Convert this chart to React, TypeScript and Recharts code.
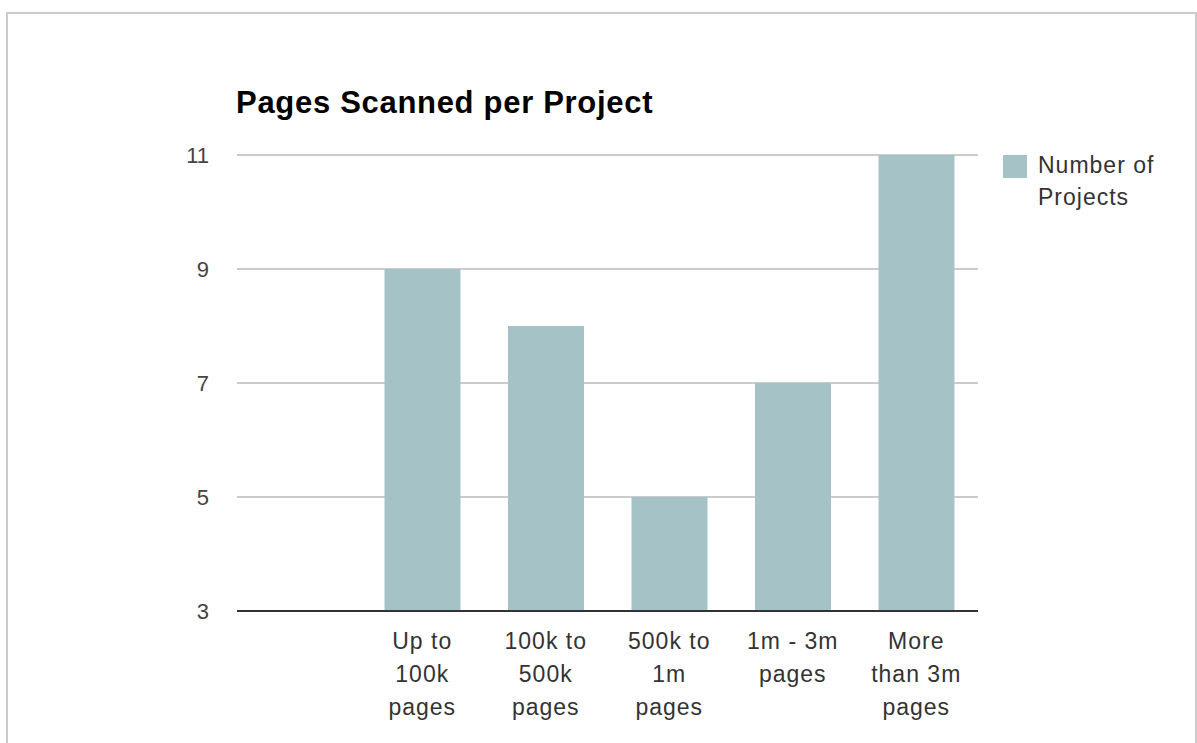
import { Bar, BarChart, CartesianGrid, Legend, XAxis, YAxis } from "recharts"

const categories = ["", "Up to\n100k\npages", "100k to\n500k\npages", "500k to\n1m\npages", "1m - 3m\npages", "More\nthan 3m\npages"]
const projects = [null, 9, 8, 5, 7, 11]
const yTicks = [3, 5, 7, 9, 11]

const data = categories.map((name, i) => ({ name, projects: projects[i] }))

const FONT = '"Liberation Sans", Arial, sans-serif'
const BAR = "#a5c3c7"

function CategoryTick(props: any) {
  const { x, y, payload } = props
  const lines = String(payload.value).split("\n")
  return (
    <text x={x} y={y + 38} textAnchor="middle" fill="#333" fontSize={23} fontFamily={FONT} letterSpacing={1}>
      {lines.map((line, i) => (
        <tspan key={i} x={x} dy={i === 0 ? 0 : 33}>
          {line}
        </tspan>
      ))}
    </text>
  )
}

function LegendBox() {
  return (
    <div style={{ display: "flex", alignItems: "flex-start", fontFamily: FONT, fontSize: 23, color: "#333", letterSpacing: 1 }}>
      <div style={{ width: 24, height: 23, background: BAR, marginTop: 3, marginRight: 11, flexShrink: 0 }} />
      <div style={{ lineHeight: "32px", marginTop: -3 }}>
        Number of
        <br />
        Projects
      </div>
    </div>
  )
}

export default function App() {
  return (
    <div style={{ position: "absolute", left: 0, top: 0, width: 1197, height: 743, background: "#fff", overflow: "hidden" }}>
      <div style={{ position: "absolute", left: 6, top: 12, width: 1187, height: 760, border: "2px solid #cccccc" }} />
      <div
        style={{
          position: "absolute",
          left: 236,
          top: 87,
          fontFamily: FONT,
          fontWeight: "bold",
          fontSize: 31,
          lineHeight: "31px",
          color: "#000",
          letterSpacing: 0.7,
          whiteSpace: "nowrap",
        }}
      >
        Pages Scanned per Project
      </div>
      <div style={{ position: "absolute", left: 0, top: 0 }}>
        <BarChart width={1197} height={743} data={data} margin={{ top: 155, right: 219, left: 0, bottom: 32 }}>
          <CartesianGrid vertical={false} stroke="#cccccc" strokeWidth={2} />
          <XAxis
            dataKey="name"
            height={100}
            interval={0}
            tickLine={false}
            tickSize={0}
            tickMargin={0}
            axisLine={{ stroke: "#333", strokeWidth: 2 }}
            tick={<CategoryTick />}
          />
          <YAxis
            width={237}
            domain={[3, 11]}
            ticks={yTicks}
            tickLine={false}
            axisLine={false}
            tickSize={0}
            tickMargin={28}
            tick={{ fill: "#444", fontSize: 22, fontFamily: FONT }}
          />
          <Legend layout="horizontal" verticalAlign="middle" align="center" wrapperStyle={{ top: 152, left: 1003, width: 190 }} content={<LegendBox />} />
          <Bar dataKey="projects" name="Number of Projects" fill={BAR} barSize={76} isAnimationActive={false} />
        </BarChart>
      </div>
    </div>
  )
}
